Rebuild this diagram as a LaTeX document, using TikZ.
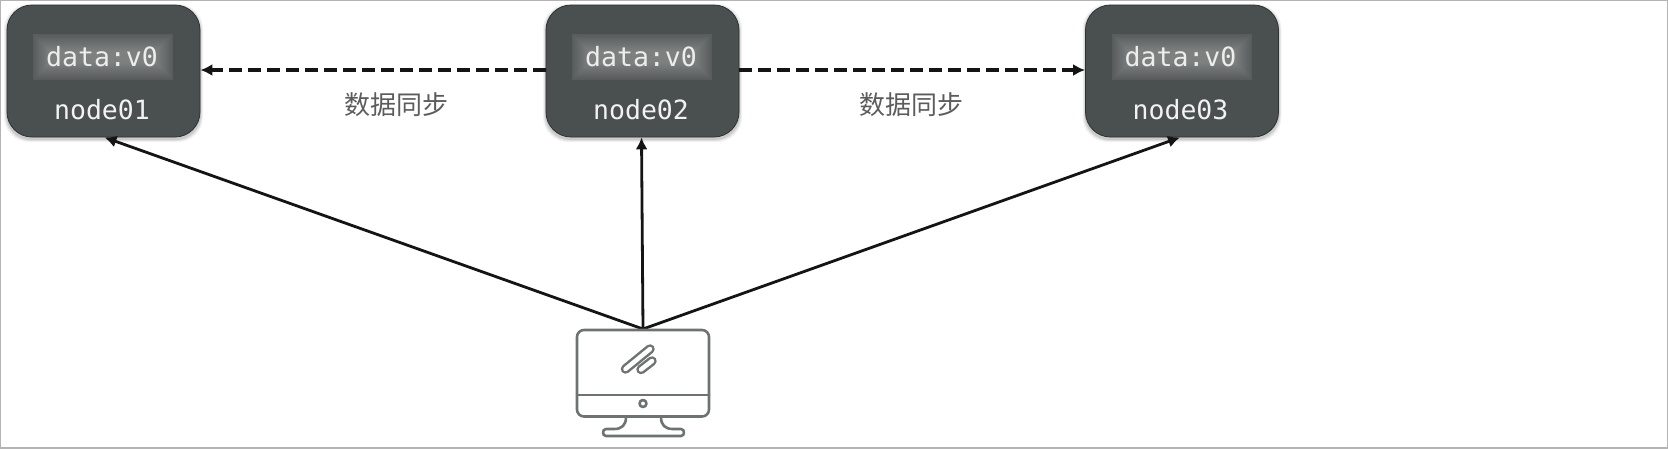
\documentclass[tikz,border=0pt]{standalone}
\usepackage{fontspec}
\setmonofont{DejaVu Sans Mono}
\newfontfamily\cjk{Noto Sans CJK SC}
\usetikzlibrary{arrows.meta,calc}
\definecolor{boxfill}{HTML}{4A4F4F}
\definecolor{boxline}{HTML}{2E3232}
\definecolor{icon}{HTML}{6F7272}
\definecolor{labelgray}{HTML}{5C5C5C}
\definecolor{glowedge}{HTML}{565A5A}
\definecolor{glowmid}{HTML}{7E8080}
\definecolor{frameline}{HTML}{B4B4B4}
\tikzset{
  x=1pt,y=-1pt,
  server/.style={draw=boxline,line width=0.8pt,fill=boxfill,rounded corners=25pt,minimum width=193pt,minimum height=132pt,inner sep=0pt},
  datatext/.style={text=white!93!black,font=\ttfamily\fontsize{26.5}{27}\selectfont,inner sep=0pt},
  nametext/.style={text=white!95!black,font=\ttfamily\fontsize{26.5}{27}\selectfont,inner sep=0pt},
  synclabel/.style={text=labelgray,font=\cjk\fontsize{26}{26}\selectfont,inner sep=0pt},
  conn/.style={line width=2.8pt,draw=black!92,-{Latex[length=12pt,width=12pt]}},
  sync/.style={conn,line width=3.2pt,dash pattern=on 13pt off 6pt},
  iconline/.style={draw=icon,line width=2.6pt,line cap=round,line join=round},
}
\newcommand{\serverbox}[4]{%
  % soft drop shadow
  \foreach \s/\o in {3/0.05,2/0.07,1/0.09}{
    \fill[black,opacity=\o,rounded corners=25pt] (#2-96.5-\s,#3-66-\s+2) rectangle (#2+96.5+\s,#3+66+\s+2);
  }
  \node[server] (#1) at (#2,#3) {};
  % glowing data panel
  \fill[glowedge] (#2-70.5,#3-37) rectangle (#2+69.5,#3+9);
  \foreach \i in {0,...,17}{
    \pgfmathsetmacro{\mixp}{100*(\i+1)/18}
    \fill[glowmid!\mixp!glowedge] (#2-70.5+\i,#3-37+\i) rectangle (#2+69.5-\i,#3+9-\i);
  }
  \node[datatext] (#1data) at (#2-1.5,#3-14.5) {data:v0};
  \node[nametext] (#1name) at (#2-1.5,#3+38.5) {#4};
}
\begin{document}
\begin{tikzpicture}
\useasboundingbox (0,0) rectangle (1668,448);
\fill[white] (0,0) rectangle (1668,448);
\draw[frameline,line width=2pt] (0,0) rectangle (1668,448);

\serverbox{n1}{103.5}{71}{node01}
\serverbox{n2}{642.5}{71}{node02}
\serverbox{n3}{1182}{71}{node03}

\coordinate (pc) at (643,329);

\draw[conn] (pc) -- ($(n1.south)+(1,0)$);
\draw[conn] (pc) -- ($(n2.south)+(-1,0)$);
\draw[conn] (pc) -- ($(n3.south)+(-2,0)$);

\draw[sync] ($(n2.west)+(0,-1)$) -- ($(n1.east)+(0,-1)$);
\draw[sync] ($(n2.east)+(0,-1)$) -- ($(n3.west)+(0,-1)$);

\node[synclabel] (s1) at (396,105) {数据同步};
\node[synclabel] (s2) at (911,105) {数据同步};

% monitor icon
\draw[iconline,rounded corners=7pt] (577,330) rectangle (709,416.5);
\draw[iconline] (577,395) -- (709,395);
\draw[iconline] (643,403.5) circle (3.5);
\draw[icon,line width=9.5pt,line cap=round] (625.5,369) -- (650,349);
\draw[white,line width=4.5pt,line cap=round] (625.5,369) -- (650,349);
\draw[icon,line width=9.5pt,line cap=round] (641,369.5) -- (652,361);
\draw[white,line width=4.5pt,line cap=round] (641,369.5) -- (652,361);
\draw[iconline] (626,417) .. controls (626,425) and (622,429) .. (614,429) -- (606,429)
  .. controls (602,429) and (602,436) .. (606,436) -- (681,436)
  .. controls (685,436) and (685,429) .. (681,429) -- (673,429)
  .. controls (665,429) and (661,425) .. (661,417);
\end{tikzpicture}
\end{document}
